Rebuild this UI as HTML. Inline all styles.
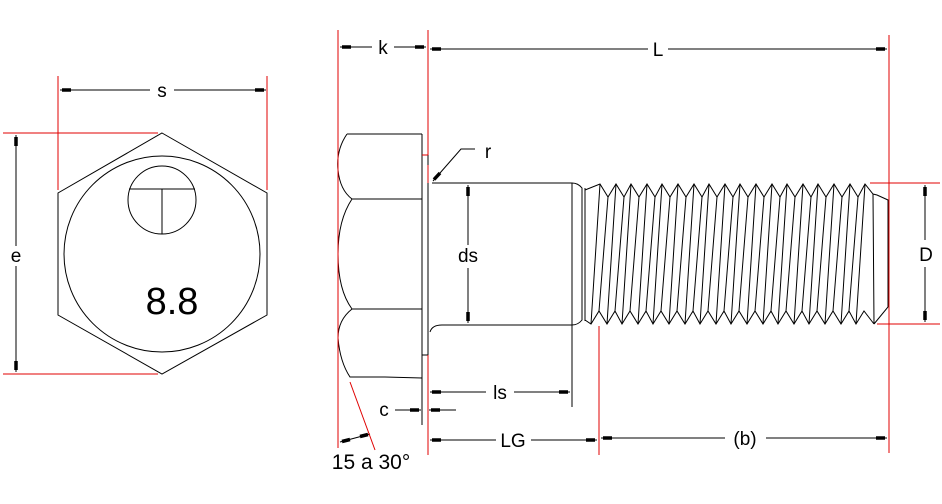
<!DOCTYPE html>
<html><head><style>body{margin:0;background:#fff}svg{display:block}text{font-family:"Liberation Sans",sans-serif}</style></head>
<body>
<svg width="942" height="504" viewBox="0 0 942 504" xmlns="http://www.w3.org/2000/svg">
<g fill="none" stroke="#000" stroke-width="1">
<!-- front view -->
<polygon points="162,133 267,193 267,315 162,374 58,315 58,193"/>
<circle cx="162" cy="254" r="98"/>
<circle cx="162" cy="200" r="34"/>
<line x1="129" y1="189" x2="195" y2="189"/>
<line x1="162" y1="189" x2="162" y2="234"/>
<!-- side head -->
<path d="M347,134 L422,134 M347,134 Q336,150 338,170 Q340,190 352,199 L422,199 M352,199 Q338,220 338,254 Q338,290 352,309 L422,309 M352,309 Q338,320 338,338 Q340,362 350,377 L385,377 L422,378"/>
<line x1="422" y1="134" x2="422" y2="425"/>
<path d="M422,155 L428,155 M422,355 L428,355"/>
<line x1="428" y1="155" x2="428" y2="425"/>
<!-- shank -->
<path d="M432,183 L572,183 Q578,183 582,188 L582,320 Q578,325 572,325 L442,325 Q432,325 430,332"/>
<line x1="572" y1="183" x2="572" y2="325"/>
<line x1="585" y1="188" x2="585" y2="321"/>
<polyline points="585,190 600,184 608,197 616,184 624,197 631,184 639,197 647,184 655,197 662,184 670,197 678,184 686,197 694,184 702,197 709,184 717,197 725,184 733,197 740,184 748,197 756,184 764,197 772,184 780,197 787,184 795,197 803,184 811,197 818,184 826,197 834,184 842,197 850,184 858,197 865,184 873,194 877,195 888,200 888,307 874,324"/>
<polyline points="585,320 591,324 599,311 607,324 615,311 622,324 630,311 638,324 646,311 653,324 661,311 669,324 677,311 685,324 693,311 700,324 708,311 716,324 724,311 731,324 739,311 747,324 755,311 763,324 771,311 778,324 786,311 794,324 802,311 809,324 817,311 825,324 833,311 841,324 849,311 856,324 864,311 874,324"/>
<path d="M600,184 L591,324 M616,184 L607,324 M631,184 L622,324 M647,184 L638,324 M662,184 L653,324 M678,184 L669,324 M694,184 L685,324 M709,184 L700,324 M725,184 L716,324 M740,184 L731,324 M756,184 L747,324 M772,184 L763,324 M787,184 L778,324 M803,184 L794,324 M818,184 L809,324 M834,184 L825,324 M850,184 L841,324 M865,184 L856,324
M608,197 L599,311 M624,197 L615,311 M639,197 L630,311 M655,197 L646,311 M670,197 L661,311 M686,197 L677,311 M702,197 L693,311 M717,197 L708,311 M733,197 L724,311 M748,197 L739,311 M764,197 L755,311 M780,197 L771,311 M795,197 L786,311 M811,197 L802,311 M826,197 L817,311 M842,197 L833,311 M858,197 L849,311 M873,194 L874,324"/>
<line x1="572" y1="325" x2="572" y2="407"/>
<!-- dimension lines -->
<line x1="60" y1="90" x2="150" y2="90"/>
<line x1="174" y1="90" x2="266" y2="90"/>
<line x1="16" y1="135" x2="16" y2="246"/>
<line x1="16" y1="266" x2="16" y2="372"/>
<line x1="340" y1="47" x2="372" y2="47"/>
<line x1="394" y1="47" x2="426" y2="47"/>
<line x1="430" y1="49" x2="648" y2="49"/>
<line x1="668" y1="49" x2="887" y2="49"/>
<line x1="468" y1="185" x2="468" y2="245"/>
<line x1="468" y1="268" x2="468" y2="323"/>
<line x1="925" y1="185" x2="925" y2="240"/>
<line x1="925" y1="267" x2="925" y2="322"/>
<line x1="430" y1="392" x2="486" y2="392"/>
<line x1="514" y1="392" x2="570" y2="392"/>
<line x1="395" y1="410" x2="421" y2="410"/>
<line x1="456" y1="410" x2="429" y2="410"/>
<line x1="430" y1="440" x2="496" y2="440"/>
<line x1="531" y1="440" x2="597" y2="440"/>
<line x1="601" y1="438" x2="725" y2="438"/>
<line x1="766" y1="438" x2="887" y2="438"/>
<line x1="340" y1="442" x2="370" y2="434"/>
<path d="M475,149 L461,149 L433,181"/>
</g>
<g fill="none" stroke="#000" stroke-width="3.5">
<path d="M62,90 H71 M264,90 H255 M16,137 V146 M16,370 V361 M342,47 H351 M424,47 H415 M432,49 H441 M885,49 H876 M468,187 V196 M468,321 V312 M925,187 V196 M925,320 V311 M432,392 H441 M568,392 H559 M419,410 H410 M431,410 H440 M432,440 H441 M595,440 H586 M603,438 H612 M885,438 H876 M342,441.5 L350,439.5 M368,434.5 L360,436.5 M434,179.5 L440,173"/>
</g>
<g stroke="#e00000" stroke-width="1" fill="none">
<line x1="58" y1="76" x2="58" y2="190"/>
<line x1="267" y1="76" x2="267" y2="190"/>
<line x1="3" y1="133" x2="158" y2="133"/>
<line x1="3" y1="374" x2="158" y2="374"/>
<line x1="338" y1="30" x2="338" y2="448"/>
<line x1="428" y1="30" x2="428" y2="155"/>
<line x1="428" y1="355" x2="428" y2="455"/>
<line x1="428" y1="165" x2="428" y2="183"/>
<line x1="422" y1="155" x2="428" y2="155"/>
<line x1="889" y1="35" x2="889" y2="453"/>
<line x1="599" y1="326" x2="599" y2="455"/>
<line x1="870" y1="183" x2="940" y2="183"/>
<line x1="877" y1="324" x2="940" y2="324"/>
<line x1="350" y1="382" x2="375" y2="450"/>
</g>
<g fill="#000">
<text x="162" y="97" font-size="19" text-anchor="middle">s</text>
<text x="16" y="262" font-size="19" text-anchor="middle">e</text>
<text x="172" y="314" font-size="38" text-anchor="middle">8.8</text>
<text x="383" y="54" font-size="19" text-anchor="middle">k</text>
<text x="658" y="56" font-size="19" text-anchor="middle">L</text>
<text x="488" y="158" font-size="19" text-anchor="middle">r</text>
<text x="468" y="262" font-size="19" text-anchor="middle">ds</text>
<text x="926" y="261" font-size="19" text-anchor="middle">D</text>
<text x="500" y="399" font-size="19" text-anchor="middle">ls</text>
<text x="384" y="416" font-size="19" text-anchor="middle">c</text>
<text x="513" y="447" font-size="19" text-anchor="middle">LG</text>
<text x="745" y="445" font-size="19" text-anchor="middle">(b)</text>
<text x="371" y="469" font-size="21" text-anchor="middle">15 a 30°</text>
</g>
</svg>
</body></html>
